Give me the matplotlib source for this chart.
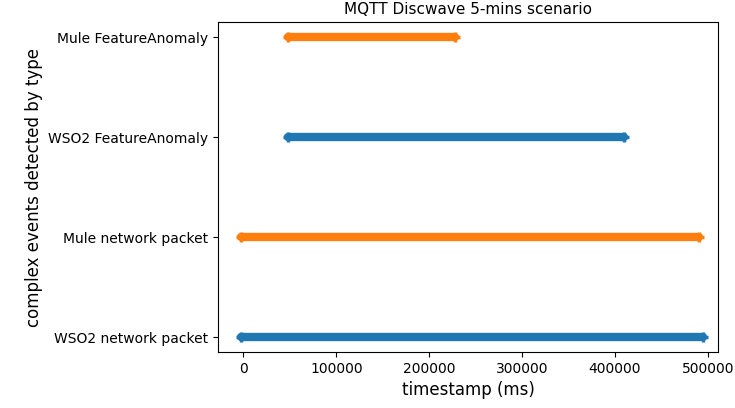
import matplotlib
matplotlib.use("Agg")
import matplotlib.pyplot as plt

categories = ["WSO2 network packet", "Mule network packet",
              "WSO2 FeatureAnomaly", "Mule FeatureAnomaly"]
start_ms = [-3000, -3000, 48000, 48000]
end_ms = [495000, 490000, 410000, 228000]
colors = ["#1f77b4", "#ff7f0e", "#1f77b4", "#ff7f0e"]

fig, ax = plt.subplots(figsize=(7.35, 4.08), dpi=100)
for i, cat in enumerate(categories):
    ax.plot([start_ms[i], end_ms[i]], [cat, cat], color=colors[i],
            linewidth=6, solid_capstyle='round',
            marker='+', markersize=7, markeredgewidth=2.5)

ax.set_xlim(-27000, 511000)
ax.set_xticks([0, 100000, 200000, 300000, 400000, 500000])
ax.set_xlabel("timestamp (ms)", fontsize=12)
ax.set_ylabel("complex events detected by type", fontsize=12)
ax.set_title("MQTT Discwave 5-mins scenario", fontsize=11)
fig.subplots_adjust(left=0.297, right=0.977, top=0.946, bottom=0.137)
fig.savefig("out.png", dpi=100)
